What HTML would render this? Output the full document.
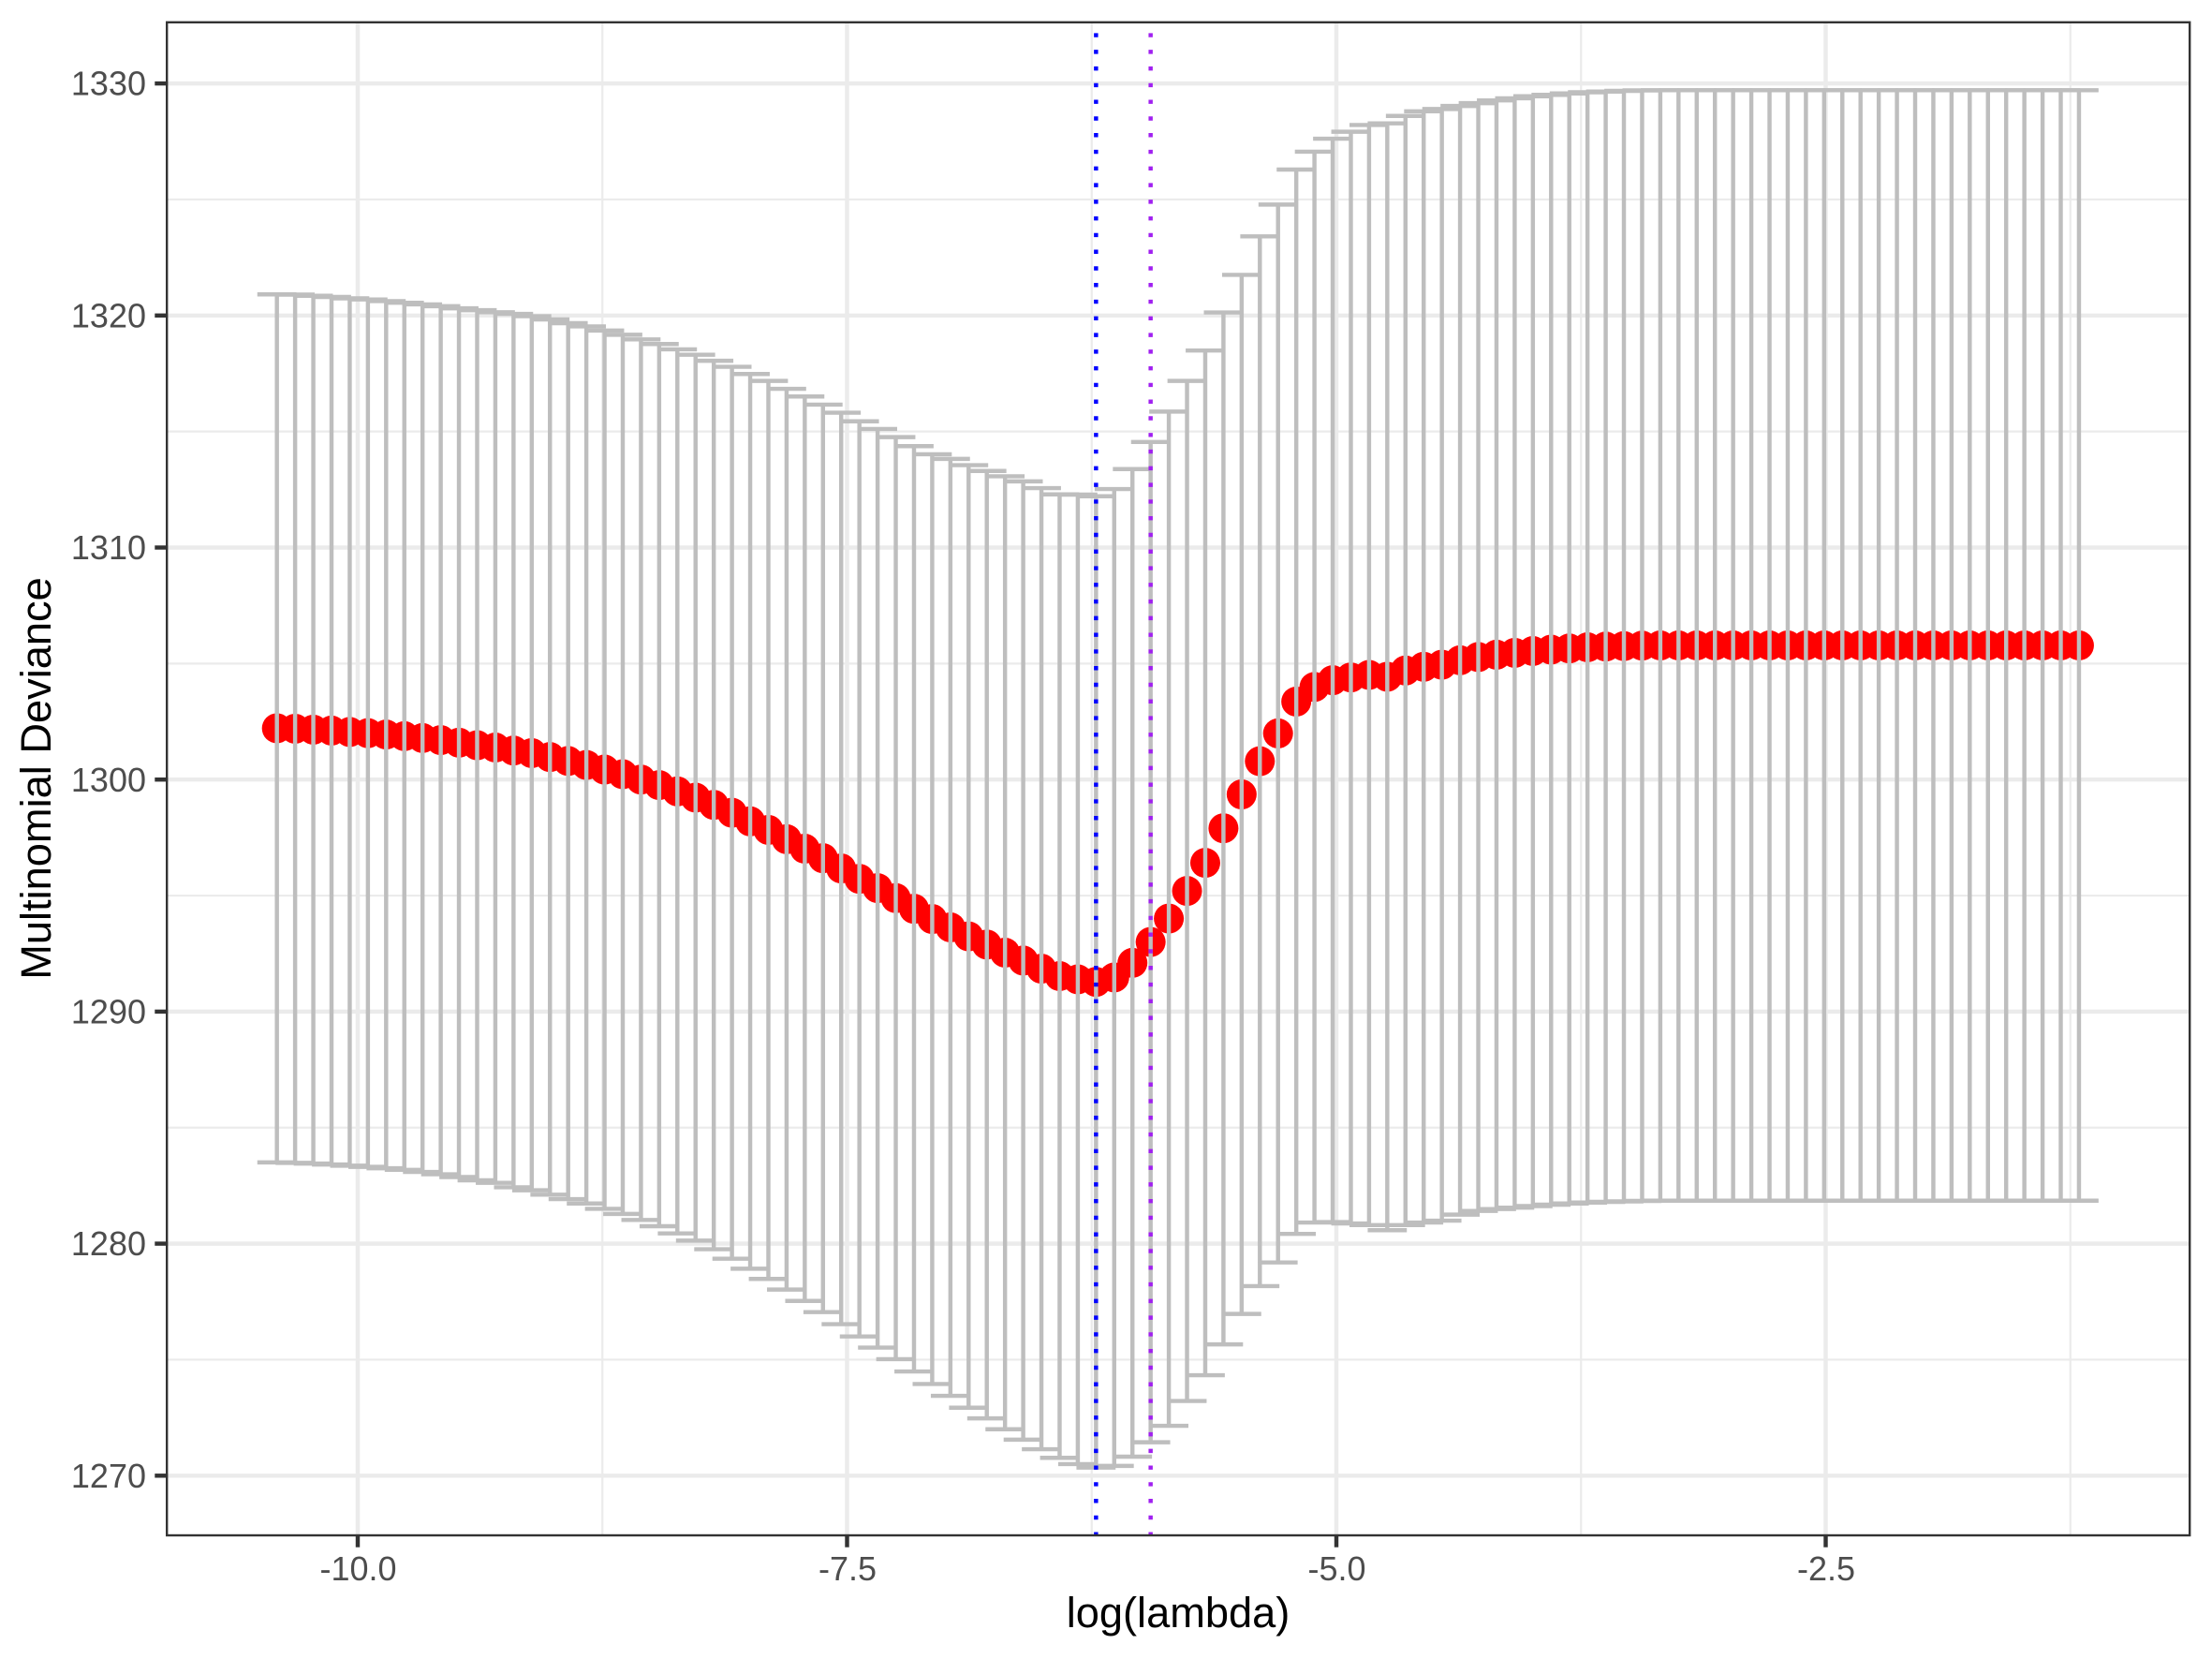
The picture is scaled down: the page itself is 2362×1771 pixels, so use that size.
<!DOCTYPE html>
<html lang="en">
<head>
<meta charset="utf-8">
<title>Multinomial Deviance vs log(lambda)</title>
<style>
html,body{margin:0;padding:0;background:#fff}
svg{display:block}
text{font-family:"Liberation Sans",sans-serif}
</style>
</head>
<body>
<svg id="chart" xmlns="http://www.w3.org/2000/svg" width="2362" height="1771" viewBox="0 0 2362 1771">
<rect x="0" y="0" width="2362" height="1771" fill="#ffffff"/>
<g id="grid"></g>
<g id="points"></g>
<g id="bars"></g>
<g id="vlines"></g>
<rect x="178.2" y="23.8" width="2160" height="1615.2" fill="none" stroke="#333333" stroke-width="2.4"/>
<g id="axes"></g>
<text x="1258" y="1737" font-size="45.2" fill="#000000" text-anchor="middle">log(lambda)</text>
<text transform="translate(54,831) rotate(-90)" font-size="45.2" fill="#000000" text-anchor="middle">Multinomial Deviance</text>
</svg>
<script>
const xMajorTicks = [-10, -7.5, -5, -2.5];
const xTickLabels = ["-10.0", "-7.5", "-5.0", "-2.5"];
const xMinorTicks = [-8.75, -6.25, -3.75, -1.25];
const yMajorTicks = [1270, 1280, 1290, 1300, 1310, 1320, 1330];
const yTickLabels = ["1270", "1280", "1290", "1300", "1310", "1320", "1330"];
const yMinorTicks = [1275, 1285, 1295, 1305, 1315, 1325];
const referenceLambdas = [-6.228, -5.949];
const referenceNames = ["lambda-min-line", "lambda-1se-line"];
const referenceColors = ["#0000FF", "#A020F0"];

const logLambda = [
-10.413,-10.320,-10.227,-10.134,-10.041,-9.948,-9.855,-9.762,-9.669,-9.576,
-9.483,-9.390,-9.297,-9.204,-9.111,-9.018,-8.925,-8.832,-8.739,-8.646,
-8.553,-8.460,-8.367,-8.274,-8.181,-8.088,-7.995,-7.902,-7.809,-7.716,
-7.623,-7.530,-7.437,-7.344,-7.251,-7.158,-7.065,-6.972,-6.879,-6.786,
-6.693,-6.600,-6.507,-6.414,-6.321,-6.228,-6.135,-6.042,-5.949,-5.856,
-5.763,-5.670,-5.577,-5.484,-5.391,-5.298,-5.205,-5.112,-5.019,-4.926,
-4.833,-4.740,-4.647,-4.554,-4.461,-4.368,-4.275,-4.182,-4.089,-3.996,
-3.903,-3.810,-3.717,-3.624,-3.531,-3.438,-3.345,-3.252,-3.159,-3.066,
-2.973,-2.880,-2.787,-2.694,-2.601,-2.508,-2.415,-2.322,-2.229,-2.136,
-2.043,-1.950,-1.857,-1.764,-1.671,-1.578,-1.485,-1.392,-1.299,-1.206];

const meanDeviance = [
1302.21,1302.19,1302.15,1302.11,1302.05,1302.00,1301.94,1301.87,1301.79,1301.70,
1301.59,1301.48,1301.38,1301.25,1301.14,1300.97,1300.80,1300.63,1300.43,1300.23,
1300.00,1299.76,1299.49,1299.22,1298.91,1298.57,1298.20,1297.83,1297.43,1297.02,
1296.61,1296.17,1295.72,1295.32,1294.89,1294.43,1293.99,1293.63,1293.24,1292.89,
1292.54,1292.20,1291.85,1291.53,1291.39,1291.28,1291.47,1292.10,1293.00,1294.01,
1295.20,1296.41,1297.90,1299.36,1300.79,1301.99,1303.36,1303.99,1304.28,1304.40,
1304.51,1304.43,1304.70,1304.86,1304.95,1305.14,1305.28,1305.38,1305.46,1305.54,
1305.60,1305.65,1305.70,1305.73,1305.75,1305.77,1305.78,1305.78,1305.78,1305.78,
1305.78,1305.78,1305.78,1305.78,1305.78,1305.78,1305.78,1305.78,1305.78,1305.78,
1305.78,1305.78,1305.78,1305.78,1305.78,1305.78,1305.78,1305.78,1305.78,1305.78];

const upperBound = [
1320.91,1320.90,1320.85,1320.80,1320.74,1320.69,1320.62,1320.55,1320.48,1320.40,
1320.31,1320.23,1320.14,1320.07,1319.97,1319.83,1319.67,1319.53,1319.35,1319.17,
1318.97,1318.77,1318.54,1318.31,1318.05,1317.79,1317.48,1317.18,1316.84,1316.51,
1316.16,1315.81,1315.44,1315.11,1314.76,1314.37,1314.02,1313.82,1313.55,1313.30,
1313.07,1312.85,1312.56,1312.29,1312.28,1312.21,1312.52,1313.38,1314.55,1315.86,
1317.18,1318.49,1320.13,1321.75,1323.41,1324.78,1326.29,1327.06,1327.62,1327.92,
1328.21,1328.28,1328.60,1328.80,1328.90,1329.03,1329.15,1329.27,1329.36,1329.45,
1329.51,1329.57,1329.62,1329.65,1329.68,1329.70,1329.71,1329.71,1329.71,1329.71,
1329.71,1329.71,1329.71,1329.71,1329.71,1329.71,1329.71,1329.71,1329.71,1329.71,
1329.71,1329.71,1329.71,1329.71,1329.71,1329.71,1329.71,1329.71,1329.71,1329.71];

const lowerBound = [
1283.50,1283.48,1283.45,1283.41,1283.36,1283.31,1283.25,1283.18,1283.09,1282.99,
1282.87,1282.73,1282.62,1282.43,1282.30,1282.11,1281.92,1281.73,1281.50,1281.28,
1281.02,1280.75,1280.44,1280.13,1279.76,1279.35,1278.92,1278.48,1278.02,1277.53,
1277.05,1276.53,1276.00,1275.52,1275.02,1274.49,1273.95,1273.44,1272.93,1272.47,
1272.00,1271.55,1271.14,1270.77,1270.50,1270.35,1270.42,1270.82,1271.44,1272.15,
1273.22,1274.33,1275.66,1276.97,1278.17,1279.19,1280.42,1280.91,1280.93,1280.87,
1280.80,1280.58,1280.80,1280.91,1280.99,1281.25,1281.41,1281.49,1281.55,1281.62,
1281.68,1281.73,1281.77,1281.80,1281.82,1281.84,1281.85,1281.85,1281.85,1281.85,
1281.85,1281.85,1281.85,1281.85,1281.85,1281.85,1281.85,1281.85,1281.85,1281.85,
1281.85,1281.85,1281.85,1281.85,1281.85,1281.85,1281.85,1281.85,1281.85,1281.85];

function xScale(v) { return 1427 + (v + 5) * 209; }
function yScale(v) { return 1575.3 - (v - 1270) * 24.77; }

const NS = "http://www.w3.org/2000/svg";
function shape(tag, parentId, attrs) {
  const el = document.createElementNS(NS, tag);
  for (const k in attrs) { el.setAttribute(k, attrs[k]); }
  document.getElementById(parentId).appendChild(el);
  return el;
}

const PANEL = { left: 178.2, right: 2338.2, top: 23.8, bottom: 1639 };

yMinorTicks.forEach(function (v) {
  const el = shape("line", "grid", { x1: PANEL.left, x2: PANEL.right, y1: yScale(v), y2: yScale(v), stroke: "#EBEBEB", "stroke-width": 2.22 });
  
  
});
xMinorTicks.forEach(function (v) {
  const el = shape("line", "grid", { x1: xScale(v), x2: xScale(v), y1: PANEL.top, y2: PANEL.bottom, stroke: "#EBEBEB", "stroke-width": 2.22 });
  
  
});
yMajorTicks.forEach(function (v) {
  const el = shape("line", "grid", { x1: PANEL.left, x2: PANEL.right, y1: yScale(v), y2: yScale(v), stroke: "#EBEBEB", "stroke-width": 4.44 });
  
  
});
xMajorTicks.forEach(function (v) {
  const el = shape("line", "grid", { x1: xScale(v), x2: xScale(v), y1: PANEL.top, y2: PANEL.bottom, stroke: "#EBEBEB", "stroke-width": 4.44 });
  
  
});

logLambda.forEach(function (v, i) {
  const el = shape("circle", "points", { cx: xScale(v), cy: yScale(meanDeviance[i]), r: 16, fill: "#FF0000" });
  
  
});

logLambda.forEach(function (v, i) {
  const cx = xScale(v);
  const top = yScale(upperBound[i]);
  const bot = yScale(lowerBound[i]);
  const half = 0.1 * 209;
  const d = "M" + (cx - half) + " " + top + "H" + (cx + half) + "M" + cx + " " + top + "V" + bot + "M" + (cx - half) + " " + bot + "H" + (cx + half);
  const el = shape("path", "bars", { d: d, fill: "none", stroke: "#BEBEBE", "stroke-width": 4.44 });
  
  
});

referenceLambdas.forEach(function (v, i) {
  const el = shape("line", "vlines", { x1: xScale(v), x2: xScale(v), y1: 1640, y2: PANEL.top, stroke: referenceColors[i], "stroke-width": 4.44, "stroke-dasharray": "4.44 13.34" });
  
  
});

yMajorTicks.forEach(function (v, i) {
  const tick = shape("line", "axes", { x1: 165.3, x2: 177, y1: yScale(v), y2: yScale(v), stroke: "#333333", "stroke-width": 4.44 });
  
  
  const label = shape("text", "axes", { x: 156, y: yScale(v) + 12.6, "font-size": 36, fill: "#4D4D4D", "text-anchor": "end" });
  label.textContent = yTickLabels[i];
  
  
});
xMajorTicks.forEach(function (v, i) {
  const tick = shape("line", "axes", { x1: xScale(v), x2: xScale(v), y1: 1640, y2: 1651.7, stroke: "#333333", "stroke-width": 4.44 });
  
  
  const label = shape("text", "axes", { x: xScale(v) + 0.5, y: 1687, "font-size": 36, fill: "#4D4D4D", "text-anchor": "middle" });
  label.textContent = xTickLabels[i];
  
  
});
</script>
</body>
</html>
